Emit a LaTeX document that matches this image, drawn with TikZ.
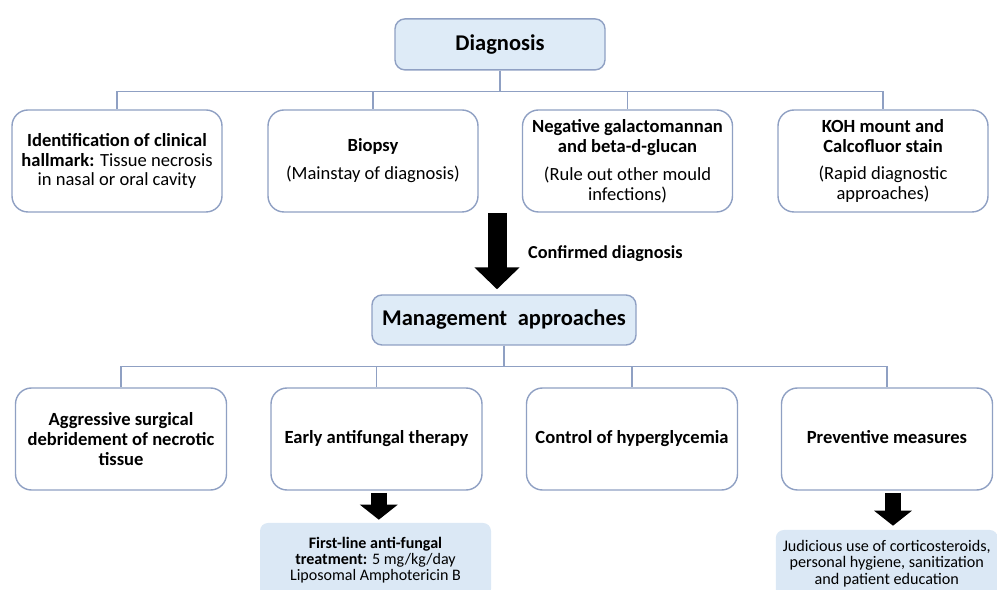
\documentclass[tikz,border=0pt]{standalone}
\usepackage{fontspec}
\setmainfont{Carlito}
\usetikzlibrary{arrows.meta}
\definecolor{boxline}{RGB}{143,160,195}
\definecolor{headfill}{RGB}{222,235,247}
\definecolor{notefill}{RGB}{219,232,245}

\begin{document}
\begin{tikzpicture}
  \tikzstyle{head} = [rectangle, rounded corners=0.25cm, draw=boxline, line width=1pt, fill=headfill, font=\fontsize{16}{19}\selectfont\bfseries]
  \tikzstyle{block} = [rectangle, rounded corners=0.4cm, draw=boxline, line width=1pt, fill=white, align=center, minimum width=5.25cm, minimum height=2.55cm, font=\fontsize{13.2}{14.2}\selectfont]
  \tikzstyle{note} = [rectangle, rounded corners=0.2cm, fill=notefill, align=center, font=\fontsize{11.4}{11.2}\selectfont]
  \tikzstyle{link} = [draw=boxline, line width=1pt]
  \tikzstyle{fatarrow} = [line width=0.475cm, -{Triangle[width=1.1cm, length=0.55cm]}]
  \tikzstyle{smallarrow} = [line width=0.4cm, -{Triangle[width=0.925cm, length=0.375cm]}]

  \clip (0,0) rectangle (24.925,14.75);

  % Layer 1: Diagnosis
  \node [head, minimum width=5.25cm, minimum height=1.275cm] (diag) at (12.5,13.64) {Diagnosis};

  \node [block] (r1) at (2.925,10.725) {\textbf{Identification of clinical}\\ \textbf{hallmark:} Tissue necrosis\\ in nasal or oral cavity};
  \node [block] (r2) at (9.325,10.725) {\textbf{Biopsy}\\[5.7pt] (Mainstay of diagnosis)};
  \node [block] (r3) at (15.6875,10.725) {\textbf{Negative galactomannan}\\ \textbf{and beta-d-glucan}\\[5.7pt] (Rule out other mould\\ infections)};
  \node [block] (r4) at (22.075,10.725) {\textbf{KOH mount and}\\ \textbf{Calcofluor stain}\\[5.7pt] (Rapid diagnostic\\ approaches)};

  \foreach \k in {r1,r2,r3,r4}
    \draw [link] (diag.south) -- ++(0,-0.525) -| (\k.north);

  % Layer 2: Management
  \node [head, minimum width=6.6cm, minimum height=1.25cm] (mgmt) at (12.6,6.75) {Management\hspace{0.25em} approaches};

  \coordinate (cdtop) at (12.425,9.425);
  \draw [fatarrow, shorten >=0.125cm] (cdtop) -- (cdtop |- mgmt.north);
  \node [anchor=west, font=\fontsize{13}{15}\selectfont\bfseries] (cdlabel) at (13.08,8.4) {Confirmed diagnosis};

  \node [block, minimum width=5.275cm, font=\fontsize{13.2}{14.2}\selectfont\bfseries] (b1) at (3.025,3.775) {Aggressive surgical\\ debridement of necrotic\\ tissue};
  \node [block, minimum width=5.275cm, font=\fontsize{13.2}{14.2}\selectfont\bfseries] (b2) at (9.4125,3.775) {Early antifungal therapy};
  \node [block, minimum width=5.275cm, font=\fontsize{13.2}{14.2}\selectfont\bfseries] (b3) at (15.8,3.775) {\raisebox{0.1cm}{Control of hyperglycemia}};
  \node [block, minimum width=5.275cm, font=\fontsize{13.2}{14.2}\selectfont\bfseries] (b4) at (22.175,3.775) {\raisebox{0.1cm}{Preventive measures}};

  \foreach \k in {b1,b2,b3,b4}
    \draw [link] (mgmt.south) -- ++(0,-0.525) -| (\k.north);

  % Layer 3: Treatment notes
  \node [note, minimum width=5.775cm, minimum height=1.85cm] (first) at (9.3875,0.75) {\textbf{First-line anti-fungal}\\ \textbf{treatment:} 5 mg/kg/day\\ Liposomal Amphotericin B};
  \node [note, minimum width=5.55cm, minimum height=1.675cm, font=\fontsize{11.5}{11.8}\selectfont] (prev) at (22.17,0.6625) {Judicious use of corticosteroids,\\ personal hygiene, sanitization\\ and patient education};

  \coordinate (fatop) at (9.47,2.425);
  \coordinate (pvtop) at (22.325,2.425);
  \draw [smallarrow, shorten >=0.075cm] (fatop) -- (fatop |- first.north);
  \draw [smallarrow, shorten >=0.1cm] (pvtop) -- (pvtop |- prev.north);

\end{tikzpicture}
\end{document}
